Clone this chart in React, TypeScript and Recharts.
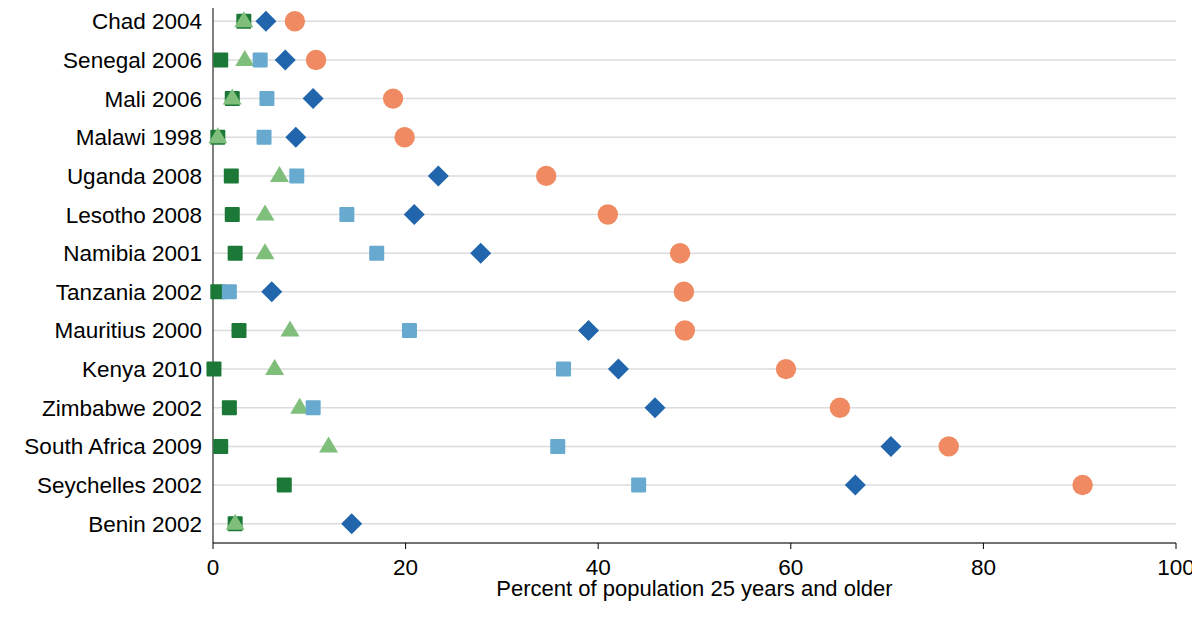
import { ScatterChart, Scatter, XAxis, YAxis, CartesianGrid } from "recharts";

const countries = [
  "Chad 2004",
  "Senegal 2006",
  "Mali 2006",
  "Malawi 1998",
  "Uganda 2008",
  "Lesotho 2008",
  "Namibia 2001",
  "Tanzania 2002",
  "Mauritius 2000",
  "Kenya 2010",
  "Zimbabwe 2002",
  "South Africa 2009",
  "Seychelles 2002",
  "Benin 2002",
];

// null = no marker for that country
const tertiary = [3.2, 0.8, 2.0, 0.5, 1.9, 2.0, 2.3, 0.5, 2.7, 0.1, 1.7, 0.8, 7.4, 2.3];
const postSecondary = [3.2, 3.3, 2.0, 0.5, 6.9, 5.4, 5.4, null, 8.0, 6.4, 9.0, 12.0, null, 2.3];
const upperSecondary = [null, 4.9, 5.6, 5.3, 8.7, 13.9, 17.0, 1.7, 20.4, 36.4, 10.4, 35.8, 44.2, null];
const lowerSecondary = [5.5, 7.5, 10.4, 8.6, 23.4, 20.9, 27.8, 6.1, 39.0, 42.1, 45.9, 70.4, 66.7, 14.4];
const primary = [8.5, 10.7, 18.7, 19.9, 34.6, 41.0, 48.5, 48.9, 49.0, 59.5, 65.1, 76.4, 90.3, null];

const xTicks = [0, 20, 40, 60, 80, 100];
const legendLabels = ["Tertiary", "Post-secondary", "Upper secondary", "Lower secondary", "Primary"];

const legendX = [108, 280, 512, 760, 1007];
const yTicks = countries.map((_, i) => i);

const toPoints = (vals: (number | null)[]) =>
  vals.map((v, i) => ({ y: i, x: v })).filter((p) => p.x !== null);

const square = (color: string) => (p: any) => (
  <rect x={p.cx - 7.5} y={p.cy - 7.5} width={15} height={15} rx={1} fill={color} />
);
const triangle = (color: string) => (p: any) => (
  <polygon
    points={`${p.cx},${p.cy - 10} ${p.cx - 9.5},${p.cy + 6} ${p.cx + 9.5},${p.cy + 6}`}
    fill={color}
  />
);
const diamond = (color: string) => (p: any) => (
  <polygon
    points={`${p.cx},${p.cy - 10.5} ${p.cx + 10.5},${p.cy} ${p.cx},${p.cy + 10.5} ${p.cx - 10.5},${p.cy}`}
    fill={color}
  />
);
const circle = (color: string) => (p: any) => <circle cx={p.cx} cy={p.cy} r={10.2} fill={color} />;

const font = "'Liberation Sans', Arial, sans-serif";

export default function App() {
  return (
    <div
      style={{
        position: "relative",
        width: 1200,
        height: 630,
        margin: -8,
        overflow: "hidden",
        background: "#fff",
        fontFamily: font,
      }}
    >
      <ScatterChart width={1200} height={630} margin={{ top: 2, right: 24, bottom: 34, left: 0 }}>
        <CartesianGrid vertical={false} stroke="#dcdcdc" strokeWidth={1.5} />
        <XAxis
          type="number"
          dataKey="x"
          domain={[0, 100]}
          ticks={xTicks}
          tickSize={6}
          tickMargin={10}
          height={53}
          stroke="#000"
          tick={{ fill: "#000", fontSize: 22.5 }}
          label={{
            value: "Percent of population 25 years and older",
            position: "insideBottom",
            offset: 0,
            fill: "#000",
            fontSize: 22,
          }}
        />
        <YAxis
          type="number"
          dataKey="y"
          domain={[-0.5, 13.5]}
          reversed
          ticks={yTicks}
          interval={0}
          tickFormatter={(i: number) => countries[i]}
          tickLine={false}
          tickSize={0}
          tickMargin={11}
          width={213}
          stroke="#000"
          tick={{ fill: "#000", fontSize: 22.5 }}
        />
        <Scatter data={toPoints(tertiary)} shape={square("#1b7837")} isAnimationActive={false} />
        <Scatter data={toPoints(postSecondary)} shape={triangle("#7fbf7b")} isAnimationActive={false} />
        <Scatter data={toPoints(upperSecondary)} shape={square("#67a9cf")} isAnimationActive={false} />
        <Scatter data={toPoints(lowerSecondary)} shape={diamond("#2166ac")} isAnimationActive={false} />
        <Scatter data={toPoints(primary)} shape={circle("#ef8a62")} isAnimationActive={false} />
      </ScatterChart>
      {legendLabels.map((t, i) => (
        <div
          key={t}
          style={{
            position: "absolute",
            left: legendX[i],
            top: 621,
            fontSize: 22,
            lineHeight: 1,
            color: "#000",
            whiteSpace: "nowrap",
          }}
        >
          {t}
        </div>
      ))}
    </div>
  );
}
